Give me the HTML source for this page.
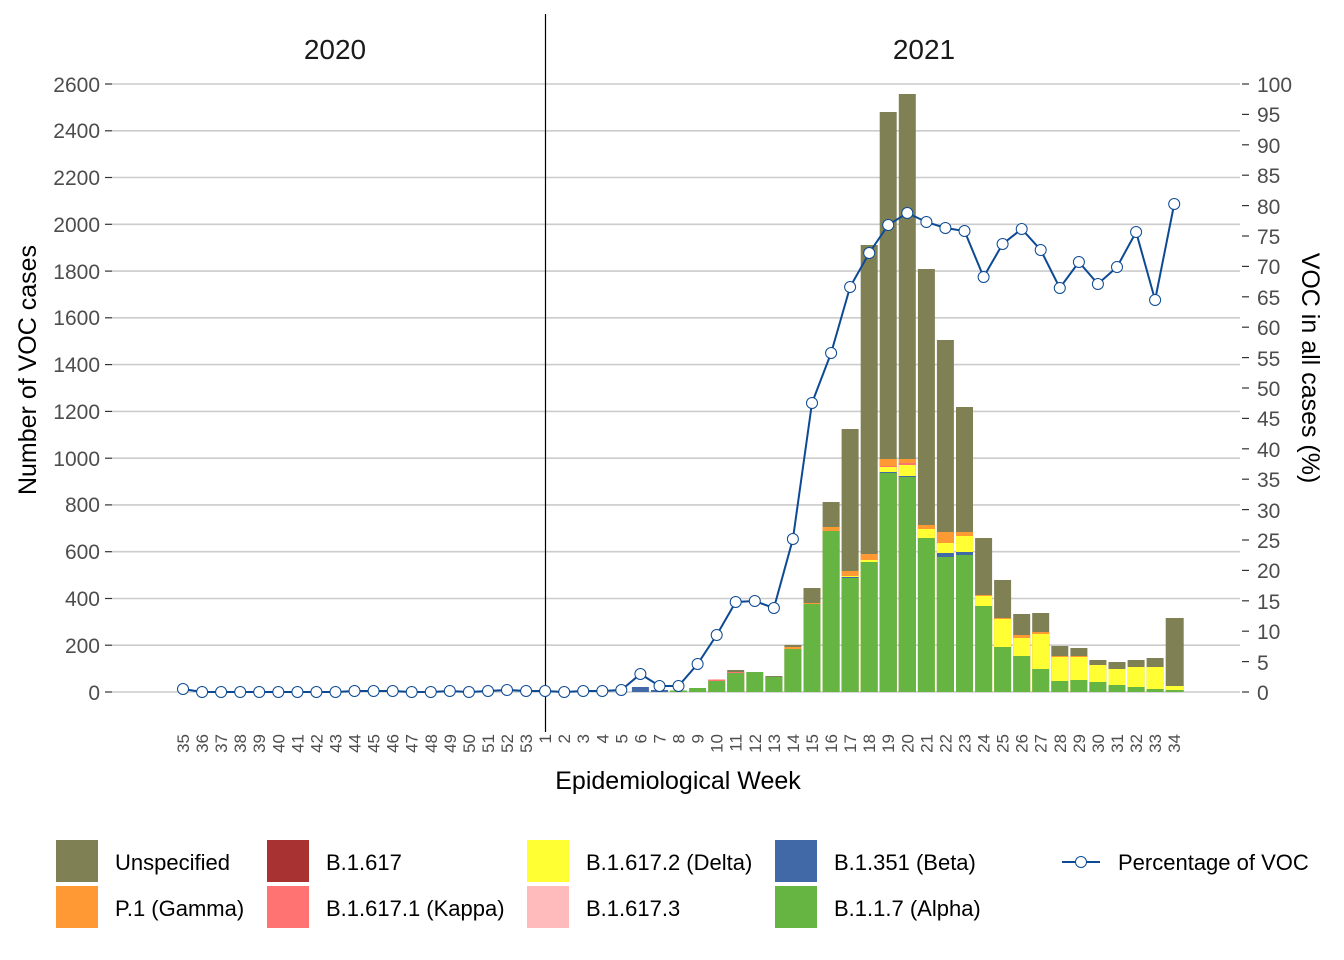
<!DOCTYPE html>
<html><head><meta charset="utf-8"><style>
html,body{margin:0;padding:0;background:#fff;}
svg{display:block;font-family:"Liberation Sans",Arial,sans-serif;}
</style></head><body>
<svg width="1344" height="960" viewBox="0 0 1344 960" xmlns="http://www.w3.org/2000/svg">
<rect width="1344" height="960" fill="#fff"/>
<!-- gridlines -->
<g stroke="#cccccc" stroke-width="1.6">
<line x1="112" x2="1240" y1="692" y2="692"/>
<line x1="112" x2="1240" y1="645.2" y2="645.2"/>
<line x1="112" x2="1240" y1="598.5" y2="598.5"/>
<line x1="112" x2="1240" y1="551.7" y2="551.7"/>
<line x1="112" x2="1240" y1="504.9" y2="504.9"/>
<line x1="112" x2="1240" y1="458.2" y2="458.2"/>
<line x1="112" x2="1240" y1="411.4" y2="411.4"/>
<line x1="112" x2="1240" y1="364.6" y2="364.6"/>
<line x1="112" x2="1240" y1="317.8" y2="317.8"/>
<line x1="112" x2="1240" y1="271.1" y2="271.1"/>
<line x1="112" x2="1240" y1="224.3" y2="224.3"/>
<line x1="112" x2="1240" y1="177.5" y2="177.5"/>
<line x1="112" x2="1240" y1="130.8" y2="130.8"/>
<line x1="112" x2="1240" y1="84" y2="84"/>
</g>
<!-- left ticks -->
<g stroke="#333" stroke-width="1.2">
<line x1="105" x2="112" y1="692" y2="692"/><line x1="105" x2="112" y1="645.2" y2="645.2"/><line x1="105" x2="112" y1="598.5" y2="598.5"/><line x1="105" x2="112" y1="551.7" y2="551.7"/><line x1="105" x2="112" y1="504.9" y2="504.9"/><line x1="105" x2="112" y1="458.2" y2="458.2"/><line x1="105" x2="112" y1="411.4" y2="411.4"/><line x1="105" x2="112" y1="364.6" y2="364.6"/><line x1="105" x2="112" y1="317.8" y2="317.8"/><line x1="105" x2="112" y1="271.1" y2="271.1"/><line x1="105" x2="112" y1="224.3" y2="224.3"/><line x1="105" x2="112" y1="177.5" y2="177.5"/><line x1="105" x2="112" y1="130.8" y2="130.8"/><line x1="105" x2="112" y1="84" y2="84"/>
</g>
<g font-size="21" fill="#4d4d4d" text-anchor="end">
<text x="100" y="700">0</text><text x="100" y="653">200</text><text x="100" y="606">400</text><text x="100" y="559">600</text><text x="100" y="512">800</text><text x="100" y="466">1000</text><text x="100" y="419">1200</text><text x="100" y="372">1400</text><text x="100" y="325">1600</text><text x="100" y="279">1800</text><text x="100" y="232">2000</text><text x="100" y="185">2200</text><text x="100" y="138">2400</text><text x="100" y="92">2600</text>
</g>
<!-- right ticks -->
<g stroke="#333" stroke-width="1.2">
<line x1="1242" x2="1249" y1="692" y2="692"/><line x1="1242" x2="1249" y1="661.6" y2="661.6"/><line x1="1242" x2="1249" y1="631.2" y2="631.2"/><line x1="1242" x2="1249" y1="600.8" y2="600.8"/><line x1="1242" x2="1249" y1="570.4" y2="570.4"/><line x1="1242" x2="1249" y1="540" y2="540"/><line x1="1242" x2="1249" y1="509.6" y2="509.6"/><line x1="1242" x2="1249" y1="479.2" y2="479.2"/><line x1="1242" x2="1249" y1="448.8" y2="448.8"/><line x1="1242" x2="1249" y1="418.4" y2="418.4"/><line x1="1242" x2="1249" y1="388" y2="388"/><line x1="1242" x2="1249" y1="357.6" y2="357.6"/><line x1="1242" x2="1249" y1="327.2" y2="327.2"/><line x1="1242" x2="1249" y1="296.8" y2="296.8"/><line x1="1242" x2="1249" y1="266.4" y2="266.4"/><line x1="1242" x2="1249" y1="236" y2="236"/><line x1="1242" x2="1249" y1="205.6" y2="205.6"/><line x1="1242" x2="1249" y1="175.2" y2="175.2"/><line x1="1242" x2="1249" y1="144.8" y2="144.8"/><line x1="1242" x2="1249" y1="114.4" y2="114.4"/><line x1="1242" x2="1249" y1="84" y2="84"/>
</g>
<g font-size="21" fill="#4d4d4d">
<text x="1257" y="700">0</text><text x="1257" y="670">5</text><text x="1257" y="639">10</text><text x="1257" y="609">15</text><text x="1257" y="578">20</text><text x="1257" y="548">25</text><text x="1257" y="518">30</text><text x="1257" y="487">35</text><text x="1257" y="457">40</text><text x="1257" y="426">45</text><text x="1257" y="396">50</text><text x="1257" y="366">55</text><text x="1257" y="335">60</text><text x="1257" y="305">65</text><text x="1257" y="274">70</text><text x="1257" y="244">75</text><text x="1257" y="214">80</text><text x="1257" y="183">85</text><text x="1257" y="153">90</text><text x="1257" y="122">95</text><text x="1257" y="92">100</text>
</g>
<!-- bars -->
<g>
<g transform="translate(631.9,0)"><rect width="17" y="687" height="5" fill="#4169a8"/></g>
<g transform="translate(651,0)"><rect width="17" y="690" height="2" fill="#4169a8"/></g>
<g transform="translate(670,0)"><rect width="17" y="690.5" height="1.5" fill="#66b543"/></g>
<g transform="translate(689.1,0)"><rect width="17" y="688" height="4" fill="#66b543"/></g>
<g transform="translate(708.2,0)"><rect width="17" y="679.5" height="12.5" fill="#ff7373"/><rect width="17" y="681" height="11" fill="#66b543"/></g>
<g transform="translate(727.2,0)"><rect width="17" y="670" height="22" fill="#808055"/><rect width="17" y="672" height="20" fill="#ff7373"/><rect width="17" y="673" height="19" fill="#66b543"/></g>
<g transform="translate(746.3,0)"><rect width="17" y="672" height="20" fill="#66b543"/></g>
<g transform="translate(765.4,0)"><rect width="17" y="676" height="16" fill="#808055"/><rect width="17" y="677" height="15" fill="#66b543"/></g>
<g transform="translate(784.4,0)"><rect width="17" y="645" height="47" fill="#808055"/><rect width="17" y="647" height="45" fill="#ff9933"/><rect width="17" y="649" height="43" fill="#66b543"/></g>
<g transform="translate(803.5,0)"><rect width="17" y="588" height="104" fill="#808055"/><rect width="17" y="603" height="89" fill="#ff9933"/><rect width="17" y="604" height="88" fill="#66b543"/></g>
<g transform="translate(822.6,0)"><rect width="17" y="502" height="190" fill="#808055"/><rect width="17" y="527" height="165" fill="#ff9933"/><rect width="17" y="531" height="161" fill="#66b543"/></g>
<g transform="translate(841.6,0)"><rect width="17" y="429" height="263" fill="#808055"/><rect width="17" y="571" height="121" fill="#ff9933"/><rect width="17" y="576" height="116" fill="#ffff33"/><rect width="17" y="577" height="115" fill="#4169a8"/><rect width="17" y="578" height="114" fill="#66b543"/></g>
<g transform="translate(860.7,0)"><rect width="17" y="245" height="447" fill="#808055"/><rect width="17" y="554" height="138" fill="#ff9933"/><rect width="17" y="560" height="132" fill="#ffff33"/><rect width="17" y="562" height="130" fill="#66b543"/></g>
<g transform="translate(879.7,0)"><rect width="17" y="112" height="580" fill="#808055"/><rect width="17" y="459" height="233" fill="#ff9933"/><rect width="17" y="466" height="226" fill="#ff7373"/><rect width="17" y="467" height="225" fill="#ffff33"/><rect width="17" y="472" height="220" fill="#4169a8"/><rect width="17" y="473" height="219" fill="#66b543"/></g>
<g transform="translate(898.8,0)"><rect width="17" y="94" height="598" fill="#808055"/><rect width="17" y="459" height="233" fill="#ff9933"/><rect width="17" y="463" height="229" fill="#ff7373"/><rect width="17" y="465" height="227" fill="#ffff33"/><rect width="17" y="476" height="216" fill="#4169a8"/><rect width="17" y="477" height="215" fill="#66b543"/></g>
<g transform="translate(917.9,0)"><rect width="17" y="269" height="423" fill="#808055"/><rect width="17" y="525" height="167" fill="#ff9933"/><rect width="17" y="529" height="163" fill="#ffff33"/><rect width="17" y="538" height="154" fill="#66b543"/></g>
<g transform="translate(936.9,0)"><rect width="17" y="340" height="352" fill="#808055"/><rect width="17" y="532" height="160" fill="#ff9933"/><rect width="17" y="543" height="149" fill="#ffff33"/><rect width="17" y="553" height="139" fill="#4169a8"/><rect width="17" y="557" height="135" fill="#66b543"/></g>
<g transform="translate(956,0)"><rect width="17" y="407" height="285" fill="#808055"/><rect width="17" y="532" height="160" fill="#ff9933"/><rect width="17" y="536" height="156" fill="#ffff33"/><rect width="17" y="552" height="140" fill="#4169a8"/><rect width="17" y="555" height="137" fill="#66b543"/></g>
<g transform="translate(975.1,0)"><rect width="17" y="538" height="154" fill="#808055"/><rect width="17" y="595" height="97" fill="#ff9933"/><rect width="17" y="596" height="96" fill="#ffff33"/><rect width="17" y="606" height="86" fill="#66b543"/></g>
<g transform="translate(994.1,0)"><rect width="17" y="580" height="112" fill="#808055"/><rect width="17" y="618" height="74" fill="#ff9933"/><rect width="17" y="619" height="73" fill="#ffff33"/><rect width="17" y="647" height="45" fill="#66b543"/></g>
<g transform="translate(1013.2,0)"><rect width="17" y="614" height="78" fill="#808055"/><rect width="17" y="635" height="57" fill="#ff9933"/><rect width="17" y="638" height="54" fill="#ffff33"/><rect width="17" y="656" height="36" fill="#66b543"/></g>
<g transform="translate(1032.2,0)"><rect width="17" y="613" height="79" fill="#808055"/><rect width="17" y="632" height="60" fill="#ff9933"/><rect width="17" y="634" height="58" fill="#ffff33"/><rect width="17" y="669" height="23" fill="#66b543"/></g>
<g transform="translate(1051.3,0)"><rect width="17" y="646" height="46" fill="#808055"/><rect width="17" y="656" height="36" fill="#ff9933"/><rect width="17" y="657" height="35" fill="#ffff33"/><rect width="17" y="681" height="11" fill="#66b543"/></g>
<g transform="translate(1070.4,0)"><rect width="17" y="648" height="44" fill="#808055"/><rect width="17" y="656" height="36" fill="#ff9933"/><rect width="17" y="657" height="35" fill="#ffff33"/><rect width="17" y="680" height="12" fill="#66b543"/></g>
<g transform="translate(1089.4,0)"><rect width="17" y="660" height="32" fill="#808055"/><rect width="17" y="665" height="27" fill="#ffff33"/><rect width="17" y="682" height="10" fill="#66b543"/></g>
<g transform="translate(1108.5,0)"><rect width="17" y="662" height="30" fill="#808055"/><rect width="17" y="669" height="23" fill="#ffff33"/><rect width="17" y="685" height="7" fill="#66b543"/></g>
<g transform="translate(1127.6,0)"><rect width="17" y="660" height="32" fill="#808055"/><rect width="17" y="667" height="25" fill="#ffff33"/><rect width="17" y="687" height="5" fill="#66b543"/></g>
<g transform="translate(1146.6,0)"><rect width="17" y="658" height="34" fill="#808055"/><rect width="17" y="667" height="25" fill="#ffff33"/><rect width="17" y="689" height="3" fill="#66b543"/></g>
<g transform="translate(1165.7,0)"><rect width="18" y="618" height="74" fill="#808055"/><rect width="18" y="686" height="6" fill="#ffff33"/><rect width="18" y="690" height="2" fill="#66b543"/></g>
</g>
<!-- divider -->
<line x1="545.5" x2="545.5" y1="14" y2="732" stroke="#000" stroke-width="1.2"/>
<!-- line -->
<polyline fill="none" stroke="#0d4a94" stroke-width="2" points="183,689 202.1,692 221.1,692 240.2,692 259.2,692 278.3,692 297.4,692 316.4,692 335.5,692 354.5,691 373.6,691 392.7,691 411.7,692 430.8,692 449.8,691 468.9,692 488,691 507,690 526.1,691 545.1,691 564.2,692 583.2,691 602.3,691 621.3,690 640.4,674 659.5,686 678.5,686 697.6,664 716.7,635 735.7,602 754.8,601 773.9,608 792.9,539 812,403 831.1,353 850.1,287 869.2,253 888.2,225 907.3,213 926.4,222 945.4,228 964.5,231 983.6,277 1002.6,244 1021.7,229 1040.7,250 1059.8,288 1078.9,262 1097.9,284 1117,267 1136.1,232 1155.1,300 1174.2,204"/>
<g fill="#fff" stroke="#0d4a94" stroke-width="1">
<circle cx="183" cy="689" r="5.5"/><circle cx="202.1" cy="692" r="5.5"/><circle cx="221.1" cy="692" r="5.5"/><circle cx="240.2" cy="692" r="5.5"/><circle cx="259.2" cy="692" r="5.5"/><circle cx="278.3" cy="692" r="5.5"/><circle cx="297.4" cy="692" r="5.5"/><circle cx="316.4" cy="692" r="5.5"/><circle cx="335.5" cy="692" r="5.5"/><circle cx="354.5" cy="691" r="5.5"/><circle cx="373.6" cy="691" r="5.5"/><circle cx="392.7" cy="691" r="5.5"/><circle cx="411.7" cy="692" r="5.5"/><circle cx="430.8" cy="692" r="5.5"/><circle cx="449.8" cy="691" r="5.5"/><circle cx="468.9" cy="692" r="5.5"/><circle cx="488" cy="691" r="5.5"/><circle cx="507" cy="690" r="5.5"/><circle cx="526.1" cy="691" r="5.5"/><circle cx="545.1" cy="691" r="5.5"/><circle cx="564.2" cy="692" r="5.5"/><circle cx="583.2" cy="691" r="5.5"/><circle cx="602.3" cy="691" r="5.5"/><circle cx="621.3" cy="690" r="5.5"/><circle cx="640.4" cy="674" r="5.5"/><circle cx="659.5" cy="686" r="5.5"/><circle cx="678.5" cy="686" r="5.5"/><circle cx="697.6" cy="664" r="5.5"/><circle cx="716.7" cy="635" r="5.5"/><circle cx="735.7" cy="602" r="5.5"/><circle cx="754.8" cy="601" r="5.5"/><circle cx="773.9" cy="608" r="5.5"/><circle cx="792.9" cy="539" r="5.5"/><circle cx="812" cy="403" r="5.5"/><circle cx="831.1" cy="353" r="5.5"/><circle cx="850.1" cy="287" r="5.5"/><circle cx="869.2" cy="253" r="5.5"/><circle cx="888.2" cy="225" r="5.5"/><circle cx="907.3" cy="213" r="5.5"/><circle cx="926.4" cy="222" r="5.5"/><circle cx="945.4" cy="228" r="5.5"/><circle cx="964.5" cy="231" r="5.5"/><circle cx="983.6" cy="277" r="5.5"/><circle cx="1002.6" cy="244" r="5.5"/><circle cx="1021.7" cy="229" r="5.5"/><circle cx="1040.7" cy="250" r="5.5"/><circle cx="1059.8" cy="288" r="5.5"/><circle cx="1078.9" cy="262" r="5.5"/><circle cx="1097.9" cy="284" r="5.5"/><circle cx="1117" cy="267" r="5.5"/><circle cx="1136.1" cy="232" r="5.5"/><circle cx="1155.1" cy="300" r="5.5"/><circle cx="1174.2" cy="204" r="5.5"/>
</g>
<!-- strip labels -->
<text x="335" y="59" font-size="28" text-anchor="middle" fill="#1a1a1a">2020</text>
<text x="924" y="59" font-size="28" text-anchor="middle" fill="#1a1a1a">2021</text>
<!-- x tick labels -->
<g font-size="17" fill="#4d4d4d" text-anchor="end">
<text transform="translate(189,734) rotate(-90)">35</text><text transform="translate(208.1,734) rotate(-90)">36</text><text transform="translate(227.1,734) rotate(-90)">37</text><text transform="translate(246.2,734) rotate(-90)">38</text><text transform="translate(265.2,734) rotate(-90)">39</text><text transform="translate(284.3,734) rotate(-90)">40</text><text transform="translate(303.4,734) rotate(-90)">41</text><text transform="translate(322.4,734) rotate(-90)">42</text><text transform="translate(341.5,734) rotate(-90)">43</text><text transform="translate(360.5,734) rotate(-90)">44</text><text transform="translate(379.6,734) rotate(-90)">45</text><text transform="translate(398.7,734) rotate(-90)">46</text><text transform="translate(417.7,734) rotate(-90)">47</text><text transform="translate(436.8,734) rotate(-90)">48</text><text transform="translate(455.8,734) rotate(-90)">49</text><text transform="translate(474.9,734) rotate(-90)">50</text><text transform="translate(494,734) rotate(-90)">51</text><text transform="translate(513,734) rotate(-90)">52</text><text transform="translate(532.1,734) rotate(-90)">53</text>
<text transform="translate(551.1,734) rotate(-90)">1</text><text transform="translate(570.2,734) rotate(-90)">2</text><text transform="translate(589.2,734) rotate(-90)">3</text><text transform="translate(608.3,734) rotate(-90)">4</text><text transform="translate(627.3,734) rotate(-90)">5</text><text transform="translate(646.4,734) rotate(-90)">6</text><text transform="translate(665.5,734) rotate(-90)">7</text><text transform="translate(684.5,734) rotate(-90)">8</text><text transform="translate(703.6,734) rotate(-90)">9</text><text transform="translate(722.7,734) rotate(-90)">10</text><text transform="translate(741.7,734) rotate(-90)">11</text><text transform="translate(760.8,734) rotate(-90)">12</text><text transform="translate(779.9,734) rotate(-90)">13</text><text transform="translate(798.9,734) rotate(-90)">14</text><text transform="translate(818,734) rotate(-90)">15</text><text transform="translate(837.1,734) rotate(-90)">16</text><text transform="translate(856.1,734) rotate(-90)">17</text><text transform="translate(875.2,734) rotate(-90)">18</text><text transform="translate(894.2,734) rotate(-90)">19</text><text transform="translate(913.3,734) rotate(-90)">20</text><text transform="translate(932.4,734) rotate(-90)">21</text><text transform="translate(951.4,734) rotate(-90)">22</text><text transform="translate(970.5,734) rotate(-90)">23</text><text transform="translate(989.6,734) rotate(-90)">24</text><text transform="translate(1008.6,734) rotate(-90)">25</text><text transform="translate(1027.7,734) rotate(-90)">26</text><text transform="translate(1046.7,734) rotate(-90)">27</text><text transform="translate(1065.8,734) rotate(-90)">28</text><text transform="translate(1084.9,734) rotate(-90)">29</text><text transform="translate(1103.9,734) rotate(-90)">30</text><text transform="translate(1123,734) rotate(-90)">31</text><text transform="translate(1142.1,734) rotate(-90)">32</text><text transform="translate(1161.1,734) rotate(-90)">33</text><text transform="translate(1180.2,734) rotate(-90)">34</text>
</g>
<!-- axis titles -->
<text x="678" y="789" font-size="25" text-anchor="middle" fill="#000">Epidemiological Week</text>
<text transform="translate(36,370) rotate(-90)" font-size="25" text-anchor="middle" fill="#000">Number of VOC cases</text>
<text transform="translate(1302,368) rotate(90)" font-size="25" text-anchor="middle" fill="#000">VOC in all cases (%)</text>
<!-- legend -->
<rect x="56" y="840" width="42" height="42" fill="#808055"/>
<rect x="56" y="886" width="42" height="42" fill="#ff9933"/>
<rect x="267" y="840" width="42" height="42" fill="#a83232"/>
<rect x="267" y="886" width="42" height="42" fill="#ff7373"/>
<rect x="527" y="840" width="42" height="42" fill="#ffff33"/>
<rect x="527" y="886" width="42" height="42" fill="#ffbbbb"/>
<rect x="775" y="840" width="42" height="42" fill="#4169a8"/>
<rect x="775" y="886" width="42" height="42" fill="#66b543"/>
<line x1="1062" x2="1100" y1="862" y2="862" stroke="#0d4a94" stroke-width="2"/>
<circle cx="1081" cy="862" r="5.5" fill="#fff" stroke="#0d4a94"/>
<g font-size="22" fill="#000">
<text x="115" y="870">Unspecified</text>
<text x="115" y="916">P.1 (Gamma)</text>
<text x="326" y="870">B.1.617</text>
<text x="326" y="916">B.1.617.1 (Kappa)</text>
<text x="586" y="870">B.1.617.2 (Delta)</text>
<text x="586" y="916">B.1.617.3</text>
<text x="834" y="870">B.1.351 (Beta)</text>
<text x="834" y="916">B.1.1.7 (Alpha)</text>
<text x="1118" y="870">Percentage of VOC</text>
</g>
</svg>
</body></html>
